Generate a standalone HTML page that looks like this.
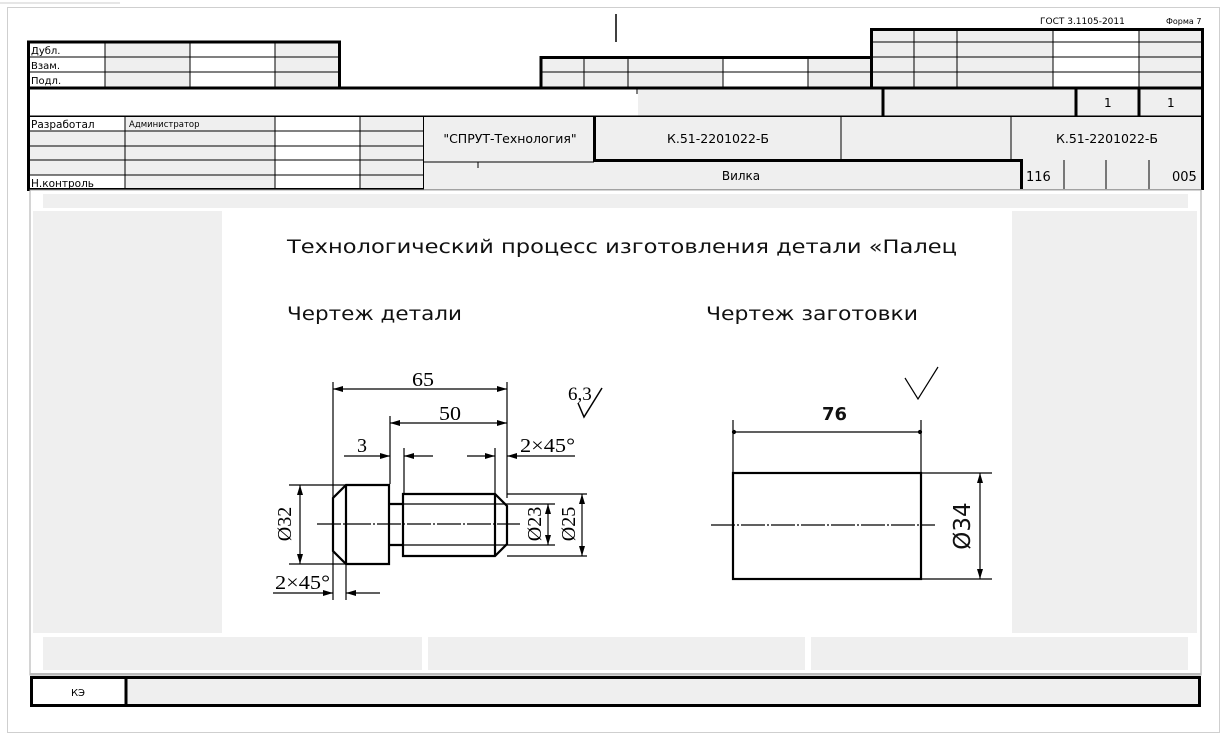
<!DOCTYPE html>
<html><head><meta charset="utf-8"><style>
html,body{margin:0;padding:0;background:#fff;}
svg{display:block;}
.s{font-family:"DejaVu Sans","Liberation Sans",sans-serif;}
.r{font-family:"Liberation Serif",serif;}
</style></head><body>
<svg width="1227" height="738" viewBox="0 0 1227 738" xmlns="http://www.w3.org/2000/svg">
<rect x="0" y="0" width="1227" height="738" fill="#fff"/>
<line x1="0" y1="3" x2="120" y2="3" stroke="#e6e6e6" stroke-width="2"/>
<rect x="7.5" y="7.5" width="1212" height="725" fill="#fff" stroke="#cfcfcf" stroke-width="1"/>
<line x1="616" y1="14" x2="616" y2="42" stroke="#000" stroke-width="1.5"/>
<g class="s" font-size="9" fill="#000"><text x="1040" y="24">ГОСТ 3.1105-2011</text><text x="1166" y="24" font-size="8">Форма 7</text></g>

<rect x="105" y="42" width="85" height="45" fill="#efefef"/>
<rect x="275" y="42" width="65" height="45" fill="#efefef"/>
<g stroke="#000" stroke-width="1"><line x1="27" y1="57" x2="340" y2="57"/><line x1="27" y1="72" x2="340" y2="72"/>
<line x1="105" y1="42" x2="105" y2="87"/><line x1="190" y1="42" x2="190" y2="87"/><line x1="275" y1="42" x2="275" y2="87"/></g>
<rect x="28.5" y="42" width="311" height="46" fill="none" stroke="#000" stroke-width="3"/>
<g class="s" font-size="10"><text x="31" y="54">Дубл.</text><text x="31" y="69">Взам.</text><text x="31" y="84">Подл.</text></g>

<rect x="541" y="57" width="331" height="30" fill="#efefef"/>
<rect x="723" y="57" width="85" height="30" fill="#fff"/>
<g stroke="#000" stroke-width="1"><line x1="541" y1="72" x2="872" y2="72"/>
<line x1="584" y1="57" x2="584" y2="87"/><line x1="628" y1="57" x2="628" y2="87"/><line x1="723" y1="57" x2="723" y2="87"/><line x1="808" y1="57" x2="808" y2="87"/></g>
<path d="M541 88 V57.5 H872" fill="none" stroke="#000" stroke-width="3"/>

<rect x="871" y="29" width="331" height="58" fill="#efefef"/>
<rect x="1053" y="29" width="86" height="58" fill="#fff"/>
<g stroke="#000" stroke-width="1"><line x1="871" y1="42" x2="1202" y2="42"/><line x1="871" y1="57" x2="1202" y2="57"/><line x1="871" y1="72" x2="1202" y2="72"/>
<line x1="914" y1="29" x2="914" y2="87"/><line x1="957" y1="29" x2="957" y2="87"/><line x1="1053" y1="29" x2="1053" y2="87"/><line x1="1139" y1="29" x2="1139" y2="87"/></g>
<path d="M871.5 88 V29.5 H1202.5 V88" fill="none" stroke="#000" stroke-width="3"/>

<rect x="638" y="88" width="564" height="28" fill="#efefef"/>
<line x1="637" y1="88" x2="637" y2="94" stroke="#000"/>
<rect x="28.5" y="88" width="1174" height="29" fill="none" stroke="#000" stroke-width="3"/>
<g stroke="#000" stroke-width="3"><line x1="883" y1="88" x2="883" y2="116"/><line x1="1076" y1="88" x2="1076" y2="116"/><line x1="1139" y1="88" x2="1139" y2="116"/></g>
<g class="s" font-size="12"><text x="1104" y="107">1</text><text x="1167" y="107">1</text></g>

<rect x="28" y="117" width="396" height="72" fill="#efefef"/>
<rect x="275" y="117" width="85" height="72" fill="#fff"/>
<rect x="30" y="117" width="95" height="14" fill="#fff"/>
<rect x="30" y="175" width="95" height="14" fill="#fff"/>
<g stroke="#000" stroke-width="1"><line x1="28" y1="131" x2="424" y2="131"/><line x1="28" y1="146" x2="424" y2="146"/><line x1="28" y1="160" x2="424" y2="160"/><line x1="28" y1="175" x2="424" y2="175"/>
<line x1="125" y1="117" x2="125" y2="189"/><line x1="275" y1="117" x2="275" y2="189"/><line x1="360" y1="117" x2="360" y2="189"/></g>
<path d="M28.5 117 V189.5 H424.5 V117" fill="none" stroke="#000" stroke-width="3"/>
<g class="s"><text x="31" y="128" font-size="10.5">Разработал</text><text x="129" y="127" font-size="8.5">Администратор</text><text x="31" y="187" font-size="10.5">Н.контроль</text></g>

<rect x="424" y="117" width="778" height="72" fill="#efefef"/>
<g stroke="#000" stroke-width="1"><line x1="424" y1="162" x2="594" y2="162"/><line x1="841" y1="117" x2="841" y2="160"/><line x1="1011" y1="117" x2="1011" y2="160"/>
<line x1="1064" y1="160" x2="1064" y2="189"/><line x1="1106" y1="160" x2="1106" y2="189"/><line x1="1149" y1="160" x2="1149" y2="189"/>
<line x1="478" y1="162" x2="478" y2="168"/><line x1="424" y1="189.5" x2="1202" y2="189.5" stroke="#999"/></g>
<path d="M594.5 117 V160.5 H1021.5 V189" fill="none" stroke="#000" stroke-width="3"/>
<line x1="1202.5" y1="116" x2="1202.5" y2="190" stroke="#000" stroke-width="3"/>
<g class="s" font-size="12.5" text-anchor="middle"><text x="510" y="143">"СПРУТ-Технология"</text><text x="718" y="143">К.51-2201022-Б</text><text x="1107" y="143">К.51-2201022-Б</text><text x="741" y="180" font-size="12">Вилка</text></g>
<g class="s" font-size="13"><text x="1026" y="181">116</text><text x="1172" y="181">005</text></g>

<rect x="30" y="190" width="1171" height="485" fill="#fff" stroke="#aaa" stroke-width="1"/>
<rect x="43" y="194" width="1145" height="14" fill="#efefef"/>
<rect x="33" y="211" width="189" height="422" fill="#efefef"/>
<rect x="1012" y="211" width="185" height="422" fill="#efefef"/>
<rect x="43" y="637" width="379" height="33" fill="#efefef"/>
<rect x="428" y="637" width="377" height="33" fill="#efefef"/>
<rect x="811" y="637" width="377" height="33" fill="#efefef"/>
<line x1="30" y1="674" x2="1201" y2="674" stroke="#bbb" stroke-width="2"/>

<rect x="126" y="677" width="1074" height="28" fill="#efefef"/>
<rect x="31.5" y="677.5" width="1168" height="28" fill="none" stroke="#000" stroke-width="3"/>
<line x1="126" y1="677" x2="126" y2="705" stroke="#000" stroke-width="3"/>
<text x="78" y="696" class="s" font-size="10" text-anchor="middle">КЭ</text>

<g class="s" fill="#111"><text x="287" y="253" font-size="19" textLength="670" lengthAdjust="spacingAndGlyphs">Технологический процесс изготовления  детали «Палец</text>
<text x="287" y="320" font-size="19" textLength="175" lengthAdjust="spacingAndGlyphs">Чертеж детали</text>
<text x="706" y="320" font-size="19" textLength="212" lengthAdjust="spacingAndGlyphs">Чертеж заготовки</text></g>

<defs><marker id="a" viewBox="0 0 10 6" refX="10" refY="3" markerWidth="10" markerHeight="6" orient="auto-start-reverse" markerUnits="userSpaceOnUse"><path d="M0 0 L10 3 L0 6z" fill="#000"/></marker></defs>

<g stroke="#000" fill="none" stroke-width="1.2">
<line x1="333" y1="382" x2="333" y2="600"/><line x1="507" y1="382" x2="507" y2="498"/>
<line x1="333" y1="389" x2="507" y2="389" marker-start="url(#a)" marker-end="url(#a)"/>
<line x1="390" y1="416" x2="390" y2="484"/>
<line x1="390" y1="423" x2="507" y2="423" marker-start="url(#a)" marker-end="url(#a)"/>
<line x1="344" y1="456" x2="390" y2="456" marker-end="url(#a)"/><line x1="433" y1="456" x2="404" y2="456" marker-end="url(#a)"/>
<line x1="404" y1="448" x2="404" y2="494"/>
<line x1="467" y1="456" x2="495" y2="456" marker-end="url(#a)"/><line x1="575" y1="456" x2="507" y2="456" marker-end="url(#a)"/>
<line x1="495" y1="448" x2="495" y2="555"/>
<line x1="273" y1="593" x2="333" y2="593" marker-end="url(#a)"/><line x1="380" y1="593" x2="346" y2="593" marker-end="url(#a)"/>
<line x1="346" y1="564" x2="346" y2="600"/>
<line x1="289" y1="485" x2="346" y2="485"/><line x1="289" y1="564" x2="346" y2="564"/>
<line x1="300" y1="485" x2="300" y2="564" marker-start="url(#a)" marker-end="url(#a)"/>
<line x1="389" y1="504" x2="555" y2="504"/><line x1="389" y1="545" x2="555" y2="545"/>
<line x1="548" y1="504" x2="548" y2="545" marker-start="url(#a)" marker-end="url(#a)"/>
<line x1="507" y1="494" x2="587" y2="494"/><line x1="507" y1="556" x2="587" y2="556"/>
<line x1="582" y1="494" x2="582" y2="556" marker-start="url(#a)" marker-end="url(#a)"/>
<line x1="317" y1="524" x2="520" y2="524" stroke-dasharray="24 2 2 2"/>
<g stroke-width="2.2">
<path d="M346 485 H389 V564 H346 L333 551 V498 Z"/><line x1="346" y1="485" x2="346" y2="564"/>
<path d="M389 504 H403 M389 545 H403"/>
<path d="M403 494 H495 L507 506 V544 L495 556 H403 Z"/><line x1="495" y1="494" x2="495" y2="556"/>
</g>
<path d="M578 403 L584 417 L602 388" stroke-width="1.5"/>
</g>
<g class="r" font-size="20" fill="#000">
<text x="412" y="386" textLength="22" lengthAdjust="spacingAndGlyphs">65</text><text x="439" y="420" textLength="22" lengthAdjust="spacingAndGlyphs">50</text><text x="357" y="452">3</text>
<text x="520" y="452" textLength="55" lengthAdjust="spacingAndGlyphs">2×45°</text><text x="275" y="589" textLength="55" lengthAdjust="spacingAndGlyphs">2×45°</text>
<text x="568" y="400" font-size="19">6,3</text>
<text transform="translate(291,524) rotate(-90)" text-anchor="middle">Ø32</text>
<text transform="translate(541,524) rotate(-90)" text-anchor="middle">Ø23</text>
<text transform="translate(575,524) rotate(-90)" text-anchor="middle">Ø25</text>
</g>

<g stroke="#000" fill="none" stroke-width="1.2">
<line x1="733" y1="420" x2="733" y2="473"/><line x1="921" y1="420" x2="921" y2="473"/>
<line x1="733" y1="432" x2="921" y2="432"/>
<circle cx="734" cy="432" r="1.5" fill="#000"/><circle cx="920" cy="432" r="1.5" fill="#000"/>
<line x1="921" y1="473" x2="992" y2="473"/><line x1="921" y1="579" x2="992" y2="579"/>
<line x1="980" y1="473" x2="980" y2="579" marker-start="url(#a)" marker-end="url(#a)"/>
<line x1="711" y1="525" x2="935" y2="525" stroke-dasharray="24 2 2 2"/>
<rect x="733" y="473" width="188" height="106" stroke-width="2.2"/>
<path d="M905 378 L918 399 L938 367" stroke-width="1.2"/>
</g>
<text x="822" y="420" class="s" font-size="18" font-weight="bold" fill="#111">76</text>
<text transform="translate(970,526) rotate(-90)" text-anchor="middle" class="s" font-size="23" fill="#111">Ø34</text>
</svg>
</body></html>
